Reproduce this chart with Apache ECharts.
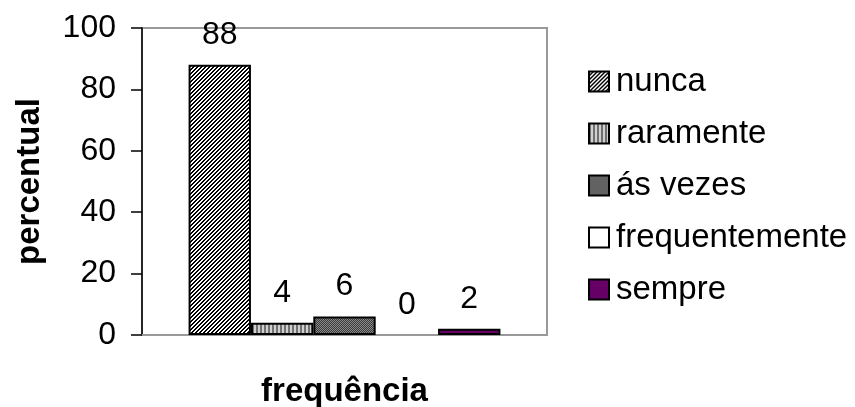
<!DOCTYPE html>
<html>
<head>
<meta charset="utf-8">
<script src="https://cdn.jsdelivr.net/npm/echarts@6/dist/echarts.min.js"></script>
<style>
  html, body { margin: 0; padding: 0; background: #fff; }
  #chart { width: 855px; height: 407px; }
</style>
</head>
<body>
<div id="chart"></div>
<script>
// Response categories and their percentages
const categories = ['nunca', 'raramente', 'ás vezes', 'frequentemente', 'sempre'];
const values = [88, 4, 6, 0, 2];
const yTicks = [0, 20, 40, 60, 80, 100];

// Fill textures for each response
function makePattern(w, h, draw) {
  const c = document.createElement('canvas');
  c.width = w; c.height = h;
  const ctx = c.getContext('2d');
  draw(ctx, w, h);
  return { image: c, repeat: 'repeat' };
}

const diagonal = makePattern(4, 4, (ctx) => {
  ctx.fillStyle = '#fff';
  ctx.fillRect(0, 0, 4, 4);
  ctx.fillStyle = '#000';
  for (let i = 0; i < 4; i++) {
    ctx.fillRect(3 - i, i, 1, 1);
    ctx.fillRect((4 - i) % 4, i, 1, 1);
  }
});

const vertical = makePattern(4, 4, (ctx) => {
  ctx.fillStyle = '#d0d0d0';
  ctx.fillRect(0, 0, 4, 4);
  ctx.fillStyle = '#707070';
  ctx.fillRect(0, 0, 2, 4);
});

const dense = makePattern(2, 2, (ctx) => {
  ctx.fillStyle = '#3a3a3a';
  ctx.fillRect(0, 0, 2, 2);
  ctx.fillStyle = '#8a8a8a';
  ctx.fillRect(0, 0, 1, 1);
  ctx.fillRect(1, 1, 1, 1);
});

const fills = [diagonal, vertical, dense, '#ffffff', '#660066'];

const font = "'Liberation Sans', Arial, sans-serif";

const series = categories.map((name, i) => ({
  name: name,
  type: 'bar',
  data: [values[i]],
  barGap: '0%',
  barCategoryGap: '23%',
  itemStyle: {
    color: fills[i],
    borderColor: '#000',
    borderWidth: values[i] === 0 ? 0 : 2
  },
  label: {
    show: true,
    position: 'top',
    distance: 14,
    fontFamily: font,
    fontSize: 32,
    color: '#000'
  }
}));

const chart = echarts.init(document.getElementById('chart'), null, { renderer: 'canvas' });
chart.setOption({
  animation: false,
  backgroundColor: '#fff',
  grid: {
    left: 142, right: 308, top: 28, bottom: 72,
    outerBoundsMode: 'none',
    containLabel: false,
    show: true, borderColor: '#999', borderWidth: 2
  },
  legend: {
    orient: 'vertical',
    left: 583,
    top: 60,
    itemWidth: 20,
    itemHeight: 20,
    itemGap: 19,
    icon: 'rect',
    itemStyle: { borderColor: '#000', borderWidth: 2 },
    textStyle: { fontFamily: font, fontSize: 33, color: '#000', lineHeight: 33, padding: [0, 0, 0, 2] },
    data: categories
  },
  xAxis: {
    type: 'category',
    data: [''],
    name: 'frequência',
    nameLocation: 'middle',
    nameGap: 40,
    nameTextStyle: { fontFamily: font, fontSize: 33, fontWeight: 'bold', color: '#000' },
    axisLine: { lineStyle: { color: '#999', width: 2 } },
    axisTick: { show: false },
    axisLabel: { show: false }
  },
  yAxis: {
    type: 'value',
    min: yTicks[0],
    max: yTicks[yTicks.length - 1],
    interval: yTicks[1] - yTicks[0],
    name: 'percentual',
    nameLocation: 'middle',
    nameGap: 96,
    nameRotate: 90,
    nameTextStyle: { fontFamily: font, fontSize: 33, fontWeight: 'bold', color: '#000' },
    axisLine: { show: true, lineStyle: { color: '#000', width: 1.5 } },
    axisTick: { show: true, inside: false, length: 11, lineStyle: { color: '#000', width: 1.5 } },
    axisLabel: { fontFamily: font, fontSize: 32, color: '#000', margin: 26 },
    splitLine: { show: false }
  },
  series: series
});
</script>
</body>
</html>
